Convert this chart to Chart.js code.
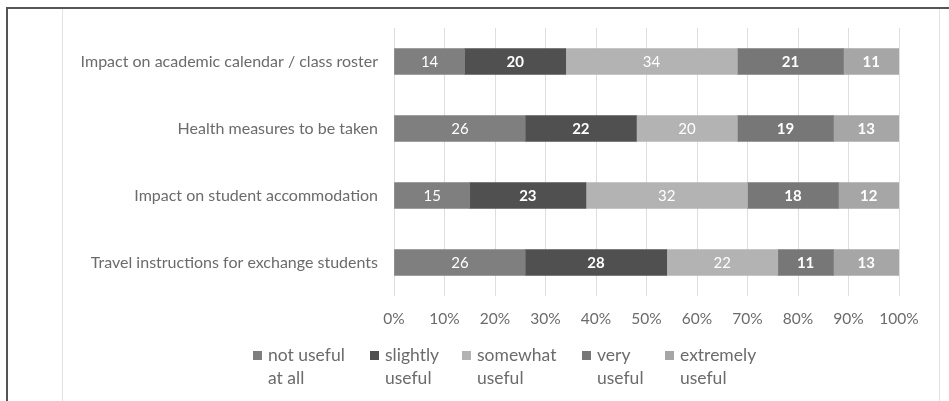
<!DOCTYPE html>
<html>
<head>
<meta charset="utf-8">
<script src="https://cdn.jsdelivr.net/npm/chart.js@4.4.1/dist/chart.umd.min.js"></script>
<style>
  html, body { margin: 0; padding: 0; background: #fff; }
  #wrap { position: relative; width: 949px; height: 401px; overflow: hidden; }
  #frame { position: absolute; left: 6px; top: 7px; right: -4px; bottom: -4px;
           border-left: 2px solid #555; border-top: 2px solid #555; }
  .vline { position: absolute; top: 9px; bottom: 0; width: 1px; background: #e2e2e2; }
  #chart { position: absolute; left: 0; top: 0; }
  #legend { position: absolute; top: 343px; left: 0; width: 949px; height: 50px;
            font-family: Lato, sans-serif; font-size: 17.5px; color: #6b6b6b; line-height: 23px; }
  .item { position: absolute; top: 0; display: flex; align-items: flex-start; }
  .box { width: 9px; height: 9px; margin-top: 8px; margin-right: 6px; flex: none; }
</style>
</head>
<body>
<div id="wrap">
  <div id="frame"></div>
  <div class="vline" style="left:62px"></div>
  <div class="vline" style="left:939px"></div>
  <canvas id="chart" width="949" height="401"></canvas>
  <div id="legend"></div>
</div>
<script>
const categories = [
    'Impact on academic calendar / class roster',
    'Health measures to be taken',
    'Impact on student accommodation',
    'Travel instructions for exchange students'
];
const seriesNames = [
    ['not useful', 'at all'],
    ['slightly', 'useful'],
    ['somewhat', 'useful'],
    ['very', 'useful'],
    ['extremely', 'useful']
];
const notUseful = [14, 26, 15, 26];
const slightlyUseful = [20, 22, 23, 28];
const somewhatUseful = [34, 20, 32, 22];
const veryUseful = [21, 19, 18, 11];
const extremelyUseful = [11, 13, 12, 13];
const tickLabels = ['0%', '10%', '20%', '30%', '40%', '50%', '60%', '70%', '80%', '90%', '100%'];

const colours = ['#7f7f7f', '#505050', '#b3b3b3', '#777777', '#a6a6a6'];
const boldLabels = [false, true, false, true, true];
const legendLeft = [253, 370, 462, 582, 665];
const allSeries = [notUseful, slightlyUseful, somewhatUseful, veryUseful, extremelyUseful];

const barLabels = {
    id: 'barLabels',
    afterDatasetsDraw(chart) {
        const ctx = chart.ctx;
        ctx.save();
        ctx.textAlign = 'center';
        ctx.textBaseline = 'middle';
        ctx.fillStyle = '#ffffff';
        chart.data.datasets.forEach(function (ds, i) {
            ctx.font = (boldLabels[i] ? 'bold ' : '') + '15px Lato, sans-serif';
            chart.getDatasetMeta(i).data.forEach(function (bar, j) {
                const mid = (bar.x + bar.base) / 2;
                ctx.fillText(String(ds.data[j]), mid, bar.y + 1);
            });
        });
        ctx.restore();
    }
};

new Chart(document.getElementById('chart'), {
    type: 'bar',
    data: {
        labels: categories,
        datasets: allSeries.map(function (values, i) {
            return {
                label: seriesNames[i].join(' '),
                data: values,
                backgroundColor: colours[i],
                borderWidth: 0,
                barThickness: 26
            };
        })
    },
    options: {
        indexAxis: 'y',
        responsive: false,
        animation: false,
        layout: { padding: { left: 0, right: 50, top: 28, bottom: 65 } },
        scales: {
            x: {
                stacked: true,
                min: 0,
                max: 100,
                afterFit: function (scale) { scale.height = 40; },
                ticks: {
                    stepSize: 10,
                    padding: 14,
                    color: '#6b6b6b',
                    font: { family: 'Lato', size: 15.5 },
                    callback: function (value, index) { return tickLabels[index]; }
                },
                grid: { color: '#dedede', drawTicks: false },
                border: { display: false }
            },
            y: {
                stacked: true,
                afterFit: function (scale) { scale.width = 394; },
                ticks: {
                    padding: 16,
                    color: '#6b6b6b',
                    font: { family: 'Lato', size: 16 }
                },
                grid: { display: false, drawTicks: false },
                border: { display: false }
            }
        },
        plugins: {
            legend: { display: false },
            tooltip: { enabled: false }
        }
    },
    plugins: [barLabels]
});

const legend = document.getElementById('legend');
seriesNames.forEach(function (lines, i) {
    const item = document.createElement('div');
    item.className = 'item';
    item.style.left = legendLeft[i] + 'px';
    const box = document.createElement('div');
    box.className = 'box';
    box.style.background = colours[i];
    const text = document.createElement('div');
    text.innerHTML = lines.join('<br>');
    item.appendChild(box);
    item.appendChild(text);
    legend.appendChild(item);
});
</script>
</body>
</html>
